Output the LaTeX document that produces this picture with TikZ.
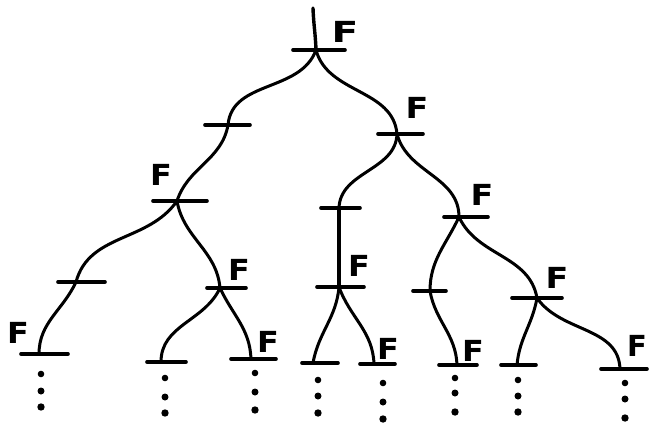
\documentclass[tikz,border=0pt]{standalone}
\usepackage{fontspec}
\setsansfont{DejaVu Sans}
\begin{document}
\begin{tikzpicture}[x=1pt,y=-1pt,
  br/.style={line width=3pt,line cap=round},
  barline/.style={line width=3.6pt,line cap=round},
  flab/.style={inner sep=0pt,font=\sffamily\bfseries\fontsize{29}{29}\selectfont},
  dotc/.style={fill=black,draw=none}]
\useasboundingbox (0,0) rectangle (649,424);
% tree points
\coordinate (top) at (313,8);
\coordinate (r0) at (316,50);
\coordinate (a) at (228,125);
\coordinate (b) at (397,134);
\coordinate (c) at (177,201);
\coordinate (d) at (339,208);
\coordinate (e) at (459,217);
\coordinate (f) at (76,282);
\coordinate (g) at (220,288);
\coordinate (h) at (339,287);
\coordinate (i) at (430,291);
\coordinate (j) at (537,298);
\coordinate (l1) at (39,354);
\coordinate (l2) at (161,362);
\coordinate (l3) at (251,359);
\coordinate (l4) at (313,363);
\coordinate (l5) at (374,364);
\coordinate (l6) at (457,365);
\coordinate (l7) at (517,365);
\coordinate (l8) at (620,369);
% crossbars
\foreach \n/\l/\r in {r0/23/29, a/23/22, b/19/26, c/24/30, d/18/21, e/15/29,
  f/18/29, g/13/26, h/22/25, i/17/16, j/25/25, l1/18/29, l2/14/25, l3/20/25,
  l4/11/25, l5/14/21, l6/18/20, l7/16/19, l8/19/27}
  \draw[barline] ([xshift=-\l pt]\n) -- ([xshift=\r pt]\n);
% branches
\draw[line width=3.4pt,line cap=round] (top) to[out=-88,in=92] (r0);
\draw[br] (r0) to[out=-110,in=85] (a);
\draw[br] (r0) to[out=-75,in=95] (b);
\draw[br] (a) to[out=-100,in=72] (c);
\draw[br] (b) to[out=-92,in=88] (d);
\draw[br] (b) to[out=-75,in=90] (e);
\draw[br] (c) to[out=-125,in=75] (f);
\draw[br] (c) to[out=-80,in=95] (g);
\draw[line width=4.4pt,line cap=round] (d) -- (h);
\draw[br] (e) to[out=-115,in=90] (i);
\draw[br] (e) to[out=-65,in=100] (j);
\draw[br] (f) to[out=-115,in=90] (l1);
\draw[br] (g) to[out=-115,in=90] (l2);
\draw[br] (g) to[out=-65,in=92] (l3);
\draw[br] (h) to[out=-95,in=80] (l4);
\draw[br] (h) to[out=-70,in=92] (l5);
\draw[br] (i) to[out=-80,in=92] (l6);
\draw[br] (j) to[out=-100,in=85] (l7);
\draw[br] (j) to[out=-55,in=92] (l8);
% labels
\foreach \nm/\x/\y/\s in {Fr/345/32/1.35, Fb/417/108/1.15, Fc/161/175/1.1, Fe/482/195/1.15,
  Fg/239/270/1.1, Fh/359/266/1.1, Fj/557/278/1.15, Fl1/18/333/1.1, Fl3/268/342/1.1,
  Fl5/388/349/1.1, Fl6/473/351/1.1, Fl8/637/346/1.0}
  \node[flab] (\nm) at (\x,\y) {\scalebox{\s}[1]{F}};
% dots
\foreach \nm/\x/\ya/\yb/\yc in {d1/41/374/391/407, d2/165/378/397/413, d3/255/373/392/410,
  d4/318/380/396/413, d5/383/383/402/419, d6/455/378/393/412, d7/518/380/396/412,
  d8/625/383/399/418}
{
  \fill[dotc] (\x,\ya) circle (3.3pt);
  \fill[dotc] (\x,\yb) circle (3.5pt);
  \fill[dotc] (\x,\yc) circle (3.7pt);
}
\end{tikzpicture}
\end{document}
